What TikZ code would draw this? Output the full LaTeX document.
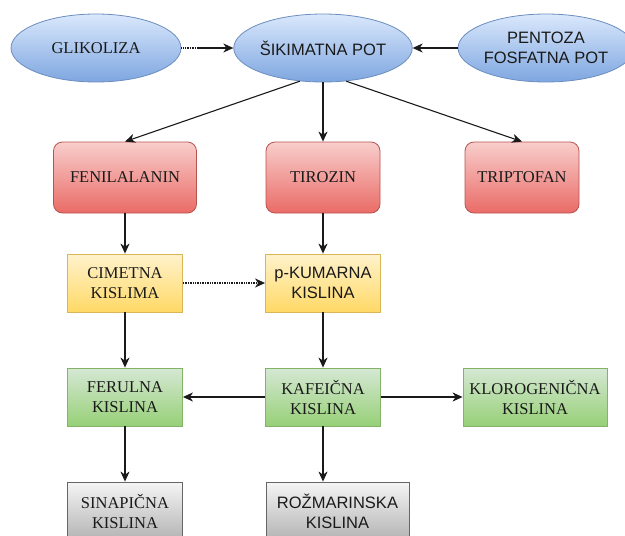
\documentclass[tikz,border=0pt]{standalone}
\usepackage{fontspec}
\setmainfont{Liberation Serif}
\setsansfont{Liberation Sans}
\usetikzlibrary{shapes.geometric,arrows.meta}
\definecolor{blueline}{HTML}{6C8EBF}
\definecolor{bluetop}{HTML}{DAE8FC}
\definecolor{bluebot}{HTML}{7EA6E0}
\definecolor{redline}{HTML}{B85450}
\definecolor{redtop}{HTML}{F8CECC}
\definecolor{redbot}{HTML}{EA6B66}
\definecolor{yelline}{HTML}{D6B656}
\definecolor{yeltop}{HTML}{FFF2CC}
\definecolor{yelbot}{HTML}{FFD966}
\definecolor{grnline}{HTML}{82B366}
\definecolor{grntop}{HTML}{D5E8D4}
\definecolor{grnbot}{HTML}{97D077}
\definecolor{gryline}{HTML}{666666}
\definecolor{grytop}{HTML}{F5F5F5}
\definecolor{grybot}{HTML}{B3B3B3}
\definecolor{txtcol}{HTML}{1A1A1A}
\definecolor{arrcol}{HTML}{1A1A1A}

\begin{document}
\begin{tikzpicture}[x=1pt,y=-1pt,font=\fontsize{16.5}{20}\selectfont,
   every node/.style={align=center,text=txtcol,inner sep=0pt,line width=0.8pt},
   pathway/.style={ellipse,draw=blueline,top color=bluetop,bottom color=bluebot,
     minimum width=170pt,minimum height=68pt},
   amino/.style={rectangle,rounded corners=9pt,draw=redline,top color=redtop,
     bottom color=redbot,minimum width=114pt,minimum height=71pt},
   acidbox/.style={rectangle,minimum width=115pt,minimum height=58pt},
   yel/.style={acidbox,draw=yelline,top color=yeltop,bottom color=yelbot},
   grn/.style={acidbox,draw=grnline,top color=grntop,bottom color=grnbot},
   gry/.style={acidbox,draw=gryline,top color=grytop,bottom color=grybot},
   arr/.style={draw=arrcol,line width=1.1pt,-{Stealth[length=10pt,width=9pt,inset=3pt]}},
   dots/.style={dash pattern=on 1pt off 0.7pt,line width=1.3pt}]
  \def\cl{125}
  \def\cm{323}
  \clip (0,0) rectangle (625,536);

  % ---- row 0 : metabolic pathways ----
  \node[pathway] (glik) at (96,48) {GLIKOLIZA};
  \node[pathway,font=\fontsize{16.5}{20}\sffamily] (sik) at (\cm,48) {ŠIKIMATNA POT};
  \node[pathway,minimum width=162pt,font=\fontsize{16.5}{20}\sffamily] (pent) at (546,48)
     {PENTOZA\\FOSFATNA POT};

  % ---- row 1 : amino acids ----
  \node[amino,minimum width=143pt] (fen) at (\cl,177.5) {FENILALANIN};
  \node[amino] (tir) at (\cm,177.5) {TIROZIN};
  \node[amino] (trip) at (522,177.5) {TRIPTOFAN};

  % ---- row 2 ----
  \node[yel] (cim) at (\cl,283) {CIMETNA\\KISLIMA};
  \node[yel,font=\fontsize{16.5}{20}\sffamily] (kum) at (\cm,283) {p-KUMARNA\\KISLINA};

  % ---- row 3 ----
  \node[grn] (fer) at (\cl,397) {FERULNA\\KISLINA};
  \node[grn] (kaf) at (\cm,397) {KAFEIČNA\\KISLINA};
  \node[grn,minimum width=144pt] (klor) at (535,397) {KLOROGENIČNA\\KISLINA};

  % ---- row 4 (cut by the lower edge) ----
  \node[gry] (sin) at (\cl,511) {SINAPIČNA\\KISLINA};
  \node[gry,minimum width=143pt,font=\fontsize{16.5}{20}\sffamily] (roz) at (337.5,511)
     {ROŽMARINSKA\\KISLINA};

  % ---- connectors ----
  \draw[arrcol,dots] (glik.east) -- ++(18,0) coordinate (g1);
  \draw[arr] (g1) -- (sik.west);
  \draw[arr] (pent.west) -- (sik.east);
  \draw[arr] (sik.-125) -- (fen.north);
  \draw[arr] (sik.south) -- (tir.north);
  \draw[arr] (sik.-55) -- (trip.north);
  \draw[arr] (fen.south) -- (cim.north);
  \draw[arr] (tir.south) -- (kum.north);
  \draw[arr,dots] (cim.east) -- (kum.west);
  \draw[arr] (cim.south) -- (fer.north);
  \draw[arr] (kum.south) -- (kaf.north);
  \draw[arr] (kaf.west) -- (fer.east);
  \draw[arr] (kaf.east) -- (klor.west);
  \draw[arr] (fer.south) -- (sin.north);
  \draw[arr] (kaf.south) -- (kaf.south |- roz.north);
\end{tikzpicture}
\end{document}
